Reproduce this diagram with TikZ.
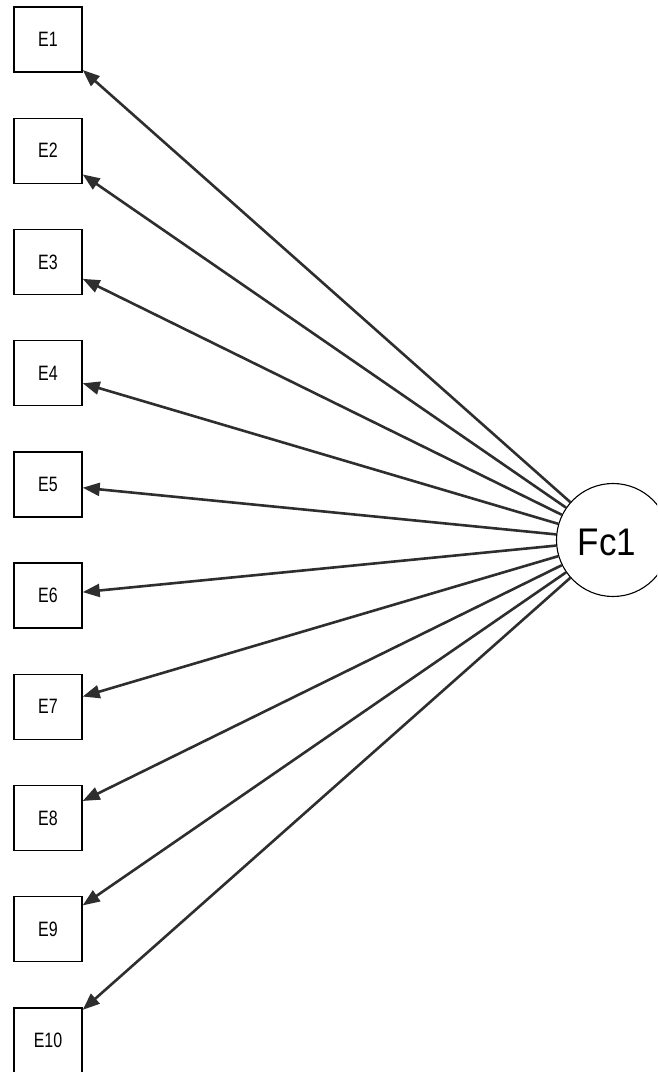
\documentclass[tikz,border=0pt]{standalone}
\usepackage{fontspec}
\setmainfont{Liberation Sans}
\usetikzlibrary{arrows.meta}
\tikzset{
  ebox/.style={draw=black, line width=1.4pt, minimum width=68pt, minimum height=65pt, inner sep=0pt, font=\fontsize{16}{18}\selectfont, text=black},
  fac/.style={draw=black, line width=1.1pt, circle, minimum size=113pt, inner sep=0pt},
  arr/.style={draw=black!82, line width=2.6pt, -{Triangle[length=17pt,width=13pt]}}
}
\begin{document}
\begin{tikzpicture}[x=1pt,y=-1pt]
\clip (0,0) rectangle (657,1072);
\useasboundingbox (0,0) rectangle (657,1072);
\node[fac] (fc) at (613,540) {};
\node[font=\fontsize{35}{38}\selectfont, text=black] (fcl) at (607,542) {\scalebox{1}[1.1]{Fc1}};
\foreach \i in {1,...,10} {
  \node[ebox] (e\i) at (48,{39.5+111.2*(\i-1)}) {\scalebox{1}[1.3]{E\i}};
}
\foreach \i in {1,...,10} {
  \draw[arr] (fc) -- (e\i);
}
\end{tikzpicture}
\end{document}
